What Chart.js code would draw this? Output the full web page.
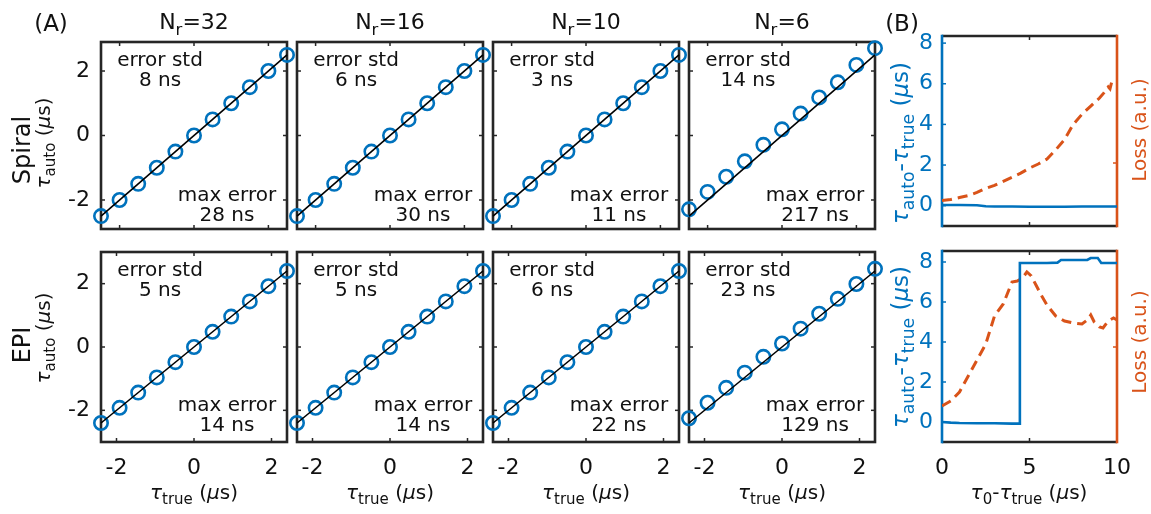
<!DOCTYPE html>
<html><head><meta charset="utf-8">
<script src="https://cdn.jsdelivr.net/npm/chart.js@4.4.1/dist/chart.umd.min.js"></script>
<style>
html,body{margin:0;padding:0;background:#fff;}
#wrap{position:relative;width:1151px;height:514px;overflow:hidden;font-family:"DejaVu Sans",sans-serif;color:#262626;}
canvas{position:absolute;left:0;top:0;}
.lbl{position:absolute;white-space:nowrap;transform:translate(-50%,-50%);line-height:1;}
.rot{transform:translate(-50%,-50%) rotate(-90deg);}
.g{font-style:italic;}
.sb{font-size:75%;position:relative;top:0.35em;}
</style></head><body><div id="wrap"></div>
<script>
// ---------------- data ----------------
const tauTrueSpiral = [-2.5, -2, -1.5, -1, -0.5, 0, 0.5, 1, 1.5, 2, 2.5];
const tauTrueEPI    = [-2.4, -1.92, -1.44, -0.96, -0.48, 0, 0.48, 0.96, 1.44, 1.92, 2.4];
const nrValues = ['32', '16', '10', '6'];

const spiralAuto32 = [-2.5, -2, -1.5, -1, -0.5, 0, 0.5, 1, 1.5, 2, 2.5];
const spiralAuto16 = [-2.5, -2, -1.5, -1, -0.5, 0, 0.5, 1, 1.5, 2, 2.5];
const spiralAuto10 = [-2.5, -2, -1.5, -1, -0.5, 0, 0.5, 1, 1.5, 2, 2.5];
const spiralAuto6  = [-2.29, -1.75, -1.28, -0.80, -0.29, 0.19, 0.68, 1.18, 1.65, 2.19, 2.71];

const epiAuto32 = [-2.4, -1.92, -1.44, -0.96, -0.48, 0, 0.48, 0.96, 1.44, 1.92, 2.4];
const epiAuto16 = [-2.4, -1.92, -1.44, -0.96, -0.48, 0, 0.48, 0.96, 1.44, 1.92, 2.4];
const epiAuto10 = [-2.4, -1.92, -1.44, -0.96, -0.48, 0, 0.48, 0.96, 1.44, 1.92, 2.4];
const epiAuto6  = [-2.25, -1.76, -1.29, -0.81, -0.31, 0.11, 0.58, 1.05, 1.52, 1.99, 2.47];

const spiralErrStd = ['8 ns', '6 ns', '3 ns', '14 ns'];
const spiralMaxErr = ['28 ns', '30 ns', '11 ns', '217 ns'];
const epiErrStd = ['5 ns', '5 ns', '6 ns', '23 ns'];
const epiMaxErr = ['14 ns', '14 ns', '22 ns', '129 ns'];

const scatterTicks = [-2, 0, 2];
const bXTicks = [0, 5, 10];
const bYTicks = [0, 2, 4, 6, 8];

// panel B, Spiral
const offsetSpiral = [0, 1, 2, 2.5, 3, 4, 5, 6, 7, 8, 9, 10];
const errSpiral    = [0.03, 0.03, 0.02, -0.03, -0.04, -0.04, -0.05, -0.05, -0.05, -0.04, -0.04, -0.04];
const lossOffsetSpiral = [0, 0.5, 1, 1.5, 2, 2.5, 3, 3.5, 4, 4.5, 5, 5.5, 6, 6.5, 7, 7.5, 8, 8.5, 9, 9.25, 9.5, 9.6, 9.7, 9.8];
const lossSpiral = [0.25, 0.3, 0.4, 0.5, 0.65, 0.85, 1.0, 1.2, 1.4, 1.6, 1.85, 2.05, 2.3, 2.75, 3.25, 4.0, 4.5, 4.9, 5.3, 5.55, 5.85, 5.75, 6.1, 6.15];
const lossTickSpiral = [2.1];

// panel B, EPI
const offsetEPI = [0, 0.5, 1, 2, 3, 4, 4.42, 4.45, 5, 6, 6.6, 6.8, 7.5, 8.3, 8.5, 8.9, 9.1, 10];
const errEPI    = [0, -0.03, -0.05, -0.06, -0.06, -0.08, -0.08, 7.95, 7.95, 7.95, 7.97, 8.1, 8.1, 8.1, 8.2, 8.2, 7.95, 7.95];
const lossOffsetEPI = [0, 0.5, 1, 1.5, 2, 2.5, 3, 3.5, 4, 4.3, 4.6, 4.85, 5.1, 5.4, 5.7, 6, 6.5, 7, 7.5, 8, 8.3, 8.5, 8.7, 9, 9.2, 9.5, 9.8, 10];
const lossEPI = [0.8, 1.05, 1.5, 2.3, 3.1, 3.9, 5.3, 5.9, 7.0, 7.05, 7.2, 7.5, 7.3, 6.8, 6.3, 5.85, 5.3, 5.05, 4.95, 4.9, 5.1, 5.35, 5.0, 4.75, 4.7, 5.05, 5.2, 5.1];
const lossTickEPI = [3.75];

// ---------------- layout ----------------
const W = 1151, H = 514;
const BLUE = '#0072BD', ORANGE = '#D95319', INK = '#262626';
const colLeft = [101, 297, 493, 689], colW = 186;
const rowBox = [{t: 42, b: 229, ymin: -2.9, ymax: 2.9}, {t: 252, b: 442, ymin: -3, ymax: 3}];
const bBox = [{l: 942, r: 1117, t: 36, b: 226, ymin: -1, ymax: 8.35}, {l: 942, r: 1117, t: 251, b: 442, ymin: -1, ymax: 8.55}];

Chart.defaults.font.family = "'DejaVu Sans', sans-serif";
Chart.defaults.color = INK;
const wrap = document.getElementById('wrap');

function seg(ctx, x1, y1, x2, y2) { ctx.beginPath(); ctx.moveTo(x1, y1); ctx.lineTo(x2, y2); ctx.stroke(); }

const scatterFrame = {
  id: 'sframe',
  beforeDatasetsDraw(chart, args, o) {
    const {ctx, chartArea: a, scales} = chart;
    ctx.save();
    ctx.strokeStyle = INK; ctx.lineWidth = 1.5;
    o.ticks.forEach(v => {
      const px = scales.x.getPixelForValue(v);
      seg(ctx, px, a.bottom, px, a.bottom - 4); seg(ctx, px, a.top, px, a.top + 4);
      const py = scales.y.getPixelForValue(v);
      seg(ctx, a.left, py, a.left + 4, py); seg(ctx, a.right, py, a.right - 4, py);
    });
    ctx.lineWidth = 2.6;
    ctx.strokeRect(a.left, a.top, a.right - a.left, a.bottom - a.top);
    ctx.restore();
  },
  afterDraw(chart, args, o) {
    const {ctx, chartArea: a} = chart;
    ctx.save();
    ctx.fillStyle = '#111'; ctx.font = "20px 'DejaVu Sans'";
    ctx.textAlign = 'center'; ctx.textBaseline = 'middle';
    ctx.fillText('error std', a.left + 59, a.top + 19);
    ctx.fillText(o.std, a.left + 59, a.top + 39);
    ctx.fillText('max error', a.left + 126, a.top + 154);
    ctx.fillText(o.max, a.left + 126, a.top + 174);
    ctx.restore();
  }
};

const bFrame = {
  id: 'bframe',
  beforeDatasetsDraw(chart, args, o) {
    const {ctx, chartArea: a, scales} = chart;
    ctx.save();
    ctx.lineWidth = 1.5;
    ctx.strokeStyle = INK;
    o.xTicks.forEach(v => { const p = scales.x.getPixelForValue(v); seg(ctx, p, a.top, p, a.top + 4); seg(ctx, p, a.bottom, p, a.bottom - 4); });
    ctx.strokeStyle = BLUE;
    o.yTicks.forEach(v => { const p = scales.y.getPixelForValue(v); seg(ctx, a.left, p, a.left + 4, p); });
    ctx.strokeStyle = ORANGE;
    o.lossTicks.forEach(v => { const p = scales.y1.getPixelForValue(v); seg(ctx, a.right, p, a.right - 4, p); });
    ctx.lineWidth = 2.6;
    ctx.strokeStyle = INK;
    seg(ctx, a.left, a.top, a.right, a.top); seg(ctx, a.left, a.bottom, a.right, a.bottom);
    ctx.strokeStyle = BLUE; seg(ctx, a.left, a.top - 1.3, a.left, a.bottom + 1.3);
    ctx.strokeStyle = ORANGE; seg(ctx, a.right, a.top - 1.3, a.right, a.bottom + 1.3);
    ctx.restore();
  }
};

function addChart(cfg, box, yw, xh) {
  const c = document.createElement('canvas');
  c.width = W; c.height = H; c.style.width = W + 'px'; c.style.height = H + 'px';
  wrap.appendChild(c);
  cfg.options.layout = {padding: {left: box.l - yw, top: box.t, right: W - box.r, bottom: H - box.b - xh}};
  cfg.options.scales.x.afterFit = s => { s.height = xh; };
  cfg.options.scales.y.afterFit = s => { s.width = yw; };
  return new Chart(c, cfg);
}

const fixTicks = vals => (s => { s.ticks = vals.map(v => ({value: v})); });
const noGrid = {display: false, drawTicks: false};

const spiralRows = [spiralAuto32, spiralAuto16, spiralAuto10, spiralAuto6];
const epiRows = [epiAuto32, epiAuto16, epiAuto10, epiAuto6];
const rows = [
  {tx: tauTrueSpiral, auto: spiralRows, std: spiralErrStd, max: spiralMaxErr},
  {tx: tauTrueEPI, auto: epiRows, std: epiErrStd, max: epiMaxErr}
];

rows.forEach((row, r) => {
  const rb = rowBox[r];
  row.auto.forEach((yv, c) => {
    const x0 = row.tx[0], x1 = row.tx[row.tx.length - 1];
    const showX = r === 1, showY = c === 0;
    addChart({
      type: 'scatter',
      data: {datasets: [
        {type: 'line', data: [{x: x0, y: x0}, {x: x1, y: x1}], borderColor: '#000', borderWidth: 1.6, pointRadius: 0, clip: false},
        {data: row.tx.map((x, i) => ({x: x, y: yv[i]})), pointStyle: 'circle', pointRadius: 6.7, borderColor: BLUE,
         backgroundColor: 'rgba(0,0,0,0)', pointBorderWidth: 2.6, borderWidth: 2.6, clip: false}
      ]},
      options: {
        responsive: false, animation: false, devicePixelRatio: 1,
        plugins: {legend: {display: false}, tooltip: {enabled: false},
          sframe: {ticks: scatterTicks, std: row.std[c], max: row.max[c]}},
        scales: {
          x: {type: 'linear', min: x0, max: x1, grid: noGrid, border: {display: false},
              afterBuildTicks: fixTicks(scatterTicks),
              ticks: {display: showX, font: {size: 22}, color: '#111', padding: 13, maxRotation: 0, callback: v => String(v)}},
          y: {type: 'linear', min: rb.ymin, max: rb.ymax, grid: noGrid, border: {display: false},
              afterBuildTicks: fixTicks(scatterTicks),
              ticks: {display: showY, font: {size: 22}, color: '#111', padding: 11, callback: v => String(v)}}
        }
      },
      plugins: [scatterFrame]
    }, {l: colLeft[c], r: colLeft[c] + colW, t: rb.t, b: rb.b}, showY ? 45 : 0, showX ? 45 : 0);
  });
});

const bSeries = [
  {off: offsetSpiral, err: errSpiral, lo: lossOffsetSpiral, loss: lossSpiral, lt: lossTickSpiral},
  {off: offsetEPI, err: errEPI, lo: lossOffsetEPI, loss: lossEPI, lt: lossTickEPI}
];
bSeries.forEach((s, r) => {
  const bb = bBox[r];
  const showX = r === 1;
  addChart({
    type: 'line',
    data: {datasets: [
      {data: s.off.map((x, i) => ({x: x, y: s.err[i]})), borderColor: BLUE, borderWidth: 2.6, pointRadius: 0, yAxisID: 'y'},
      {data: s.lo.map((x, i) => ({x: x, y: s.loss[i]})), borderColor: ORANGE, borderWidth: 3, borderDash: [10, 6], pointRadius: 0, yAxisID: 'y1'}
    ]},
    options: {
      responsive: false, animation: false, devicePixelRatio: 1,
      plugins: {legend: {display: false}, tooltip: {enabled: false},
        bframe: {xTicks: bXTicks, yTicks: bYTicks, lossTicks: s.lt}},
      scales: {
        x: {type: 'linear', min: 0, max: 10, grid: noGrid, border: {display: false},
            afterBuildTicks: fixTicks(bXTicks),
            ticks: {display: showX, font: {size: 22}, color: '#111', padding: 13, maxRotation: 0}},
        y: {type: 'linear', position: 'left', min: bb.ymin, max: bb.ymax, grid: noGrid, border: {display: false},
            afterBuildTicks: fixTicks(bYTicks),
            ticks: {display: true, font: {size: 22}, color: BLUE, padding: 9}},
        y1: {type: 'linear', position: 'right', display: false, min: bb.ymin, max: bb.ymax}
      }
    },
    plugins: [bFrame]
  }, bb, 45, showX ? 45 : 0);
});

// ---------------- text labels ----------------
function label(html, x, y, cls, color, size) {
  const d = document.createElement('div');
  d.className = 'lbl' + (cls ? ' ' + cls : '');
  d.innerHTML = html;
  d.style.left = x + 'px'; d.style.top = y + 'px';
  if (color) d.style.color = color;
  d.style.fontSize = (size || 20) + 'px';
  wrap.appendChild(d);
}
const tau = '<span class="g">τ</span>';
const mus = '(<span class="g">μ</span>s)';
label('(A)', 51, 23, '', '#111', 23);
label('(B)', 902, 23, '', '#111', 23);
nrValues.forEach((n, c) => label('N<span class="sb">r</span>=' + n, colLeft[c] + colW / 2, 22, '', '#111', 22));
label('Spiral', 22, 150, 'rot', '#111', 24);
label(tau + '<span class="sb">auto</span> ' + mus, 43, 143, 'rot', '#111', 20);
label('EPI', 22, 345, 'rot', '#111', 24);
label(tau + '<span class="sb">auto</span> ' + mus, 43, 338, 'rot', '#111', 20);
colLeft.forEach(l => label(tau + '<span class="sb">true</span> ' + mus, l + colW / 2, 492, '', '#111', 20));
label(tau + '<span class="sb">0</span>-' + tau + '<span class="sb">true</span> ' + mus, 1029, 492, '', '#111', 20);
label(tau + '<span class="sb">auto</span>-' + tau + '<span class="sb">true</span> ' + mus, 900, 143, 'rot', BLUE, 23);
label(tau + '<span class="sb">auto</span>-' + tau + '<span class="sb">true</span> ' + mus, 900, 347, 'rot', BLUE, 23);
label('Loss (a.u.)', 1139, 130, 'rot', ORANGE, 20);
label('Loss (a.u.)', 1139, 342, 'rot', ORANGE, 20);
</script></body></html>
